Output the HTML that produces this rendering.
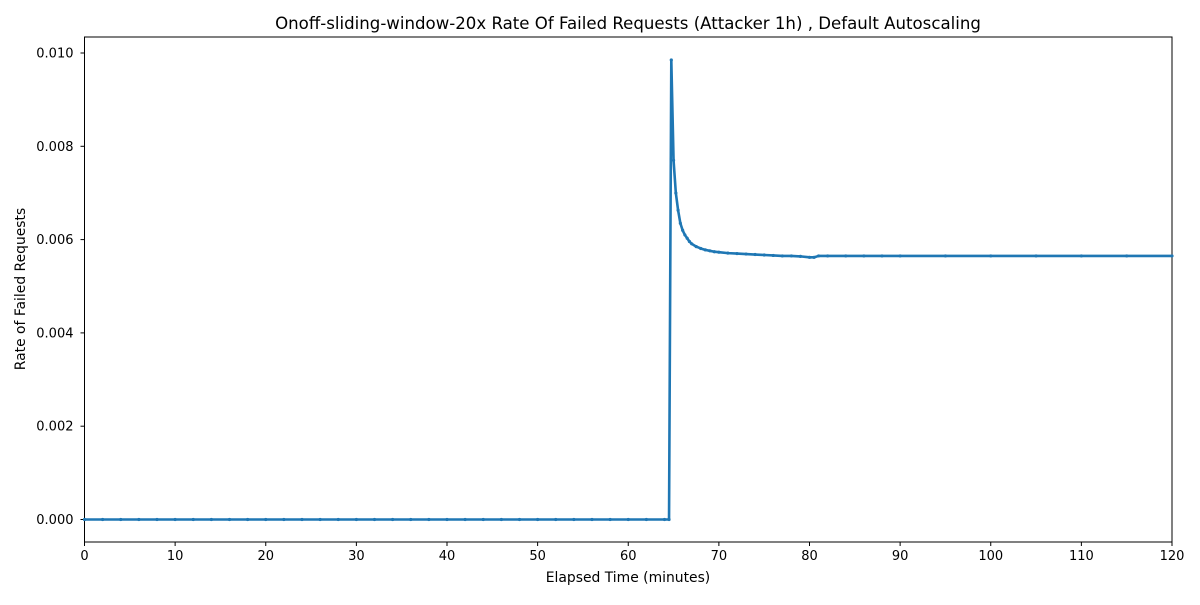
<!DOCTYPE html>
<html><head><meta charset="utf-8"><style>
body{margin:0;background:#fff;}
svg text{font-family:"DejaVu Sans","Liberation Sans",sans-serif;fill:#000;}
</style></head><body>
<svg id="chart" width="1200" height="600" xmlns="http://www.w3.org/2000/svg">
<rect width="1200" height="600" fill="#fff"/>
<text x="628" y="29" font-size="16.6" text-anchor="middle">Onoff-sliding-window-20x Rate Of Failed Requests (Attacker 1h) , Default Autoscaling</text>
<g id="plot"></g>
<text x="628" y="582" font-size="13.9" text-anchor="middle">Elapsed Time (minutes)</text>
<text transform="translate(25,289) rotate(-90)" font-size="13.9" text-anchor="middle">Rate of Failed Requests</text>
</svg>
<script>
const xTicks=[0,10,20,30,40,50,60,70,80,90,100,110,120];
const yTicks=[0,0.002,0.004,0.006,0.008,0.010];
const yTickLabels=["0.000","0.002","0.004","0.006","0.008","0.010"];
const times=[0,2,4,6,8,10,12,14,16,18,20,22,24,26,28,30,32,34,36,38,40,42,44,46,48,50,52,54,56,58,60,62,64,64.5,64.75,65,65.25,65.5,65.75,66,66.25,66.5,66.75,67,67.5,68,68.5,69,69.5,70,71,72,73,74,75,76,77,78,79,80,80.5,81,82,84,86,88,90,95,100,105,110,115,120];
const values=[0,0,0,0,0,0,0,0,0,0,0,0,0,0,0,0,0,0,0,0,0,0,0,0,0,0,0,0,0,0,0,0,0,0,0.00985,0.0077,0.0070,0.00663,0.00635,0.00620,0.00610,0.00603,0.00596,0.00591,0.00585,0.00581,0.00578,0.00576,0.00574,0.00573,0.00571,0.00570,0.00569,0.00568,0.00567,0.00566,0.00565,0.00565,0.00564,0.00562,0.00562,0.00565,0.00565,0.00565,0.00565,0.00565,0.00565,0.00565,0.00565,0.00565,0.00565,0.00565,0.00565];
const L=84.5,R=1172,T=37,B=542;
const X=v=>L+(v-0)/120*(R-L);
const Y=v=>519.5-v/0.010*(519.5-53);
const NS="http://www.w3.org/2000/svg";
const g=document.getElementById('plot');
function mk(t,a,p){const e=document.createElementNS(NS,t);for(const k in a)e.setAttribute(k,a[k]);(p||g).appendChild(e);return e;}
const frame=mk('rect',{x:L,y:T,width:R-L,height:B-T,fill:'none',stroke:'#000','stroke-width':1});


xTicks.forEach(t=>{
 const l=mk('line',{x1:X(t),x2:X(t),y1:B,y2:B+4,stroke:'#000'});
 
 
 const tx=mk('text',{x:X(t),y:B+18,'font-size':13,'text-anchor':'middle'});tx.textContent=t;
 
 
});
yTicks.forEach((t,i)=>{
 const l=mk('line',{x1:L-4,x2:L,y1:Y(t),y2:Y(t),stroke:'#000'});
 
 
 const tx=mk('text',{x:L-11,y:Y(t)+4.5,'font-size':13,'text-anchor':'end'});tx.textContent=yTickLabels[i];
 
 
});
const pts=times.map((t,i)=>X(t).toFixed(2)+','+Y(values[i]).toFixed(2)).join(' ');
const line=mk('polyline',{points:pts,fill:'none',stroke:'#1f77b4','stroke-width':2.6,'stroke-linejoin':'round'});


times.forEach((t,i)=>{
 const c=mk('circle',{cx:X(t),cy:Y(values[i]),r:1.6,fill:'#1f77b4'});
 
 
});
</script>
</body></html>
